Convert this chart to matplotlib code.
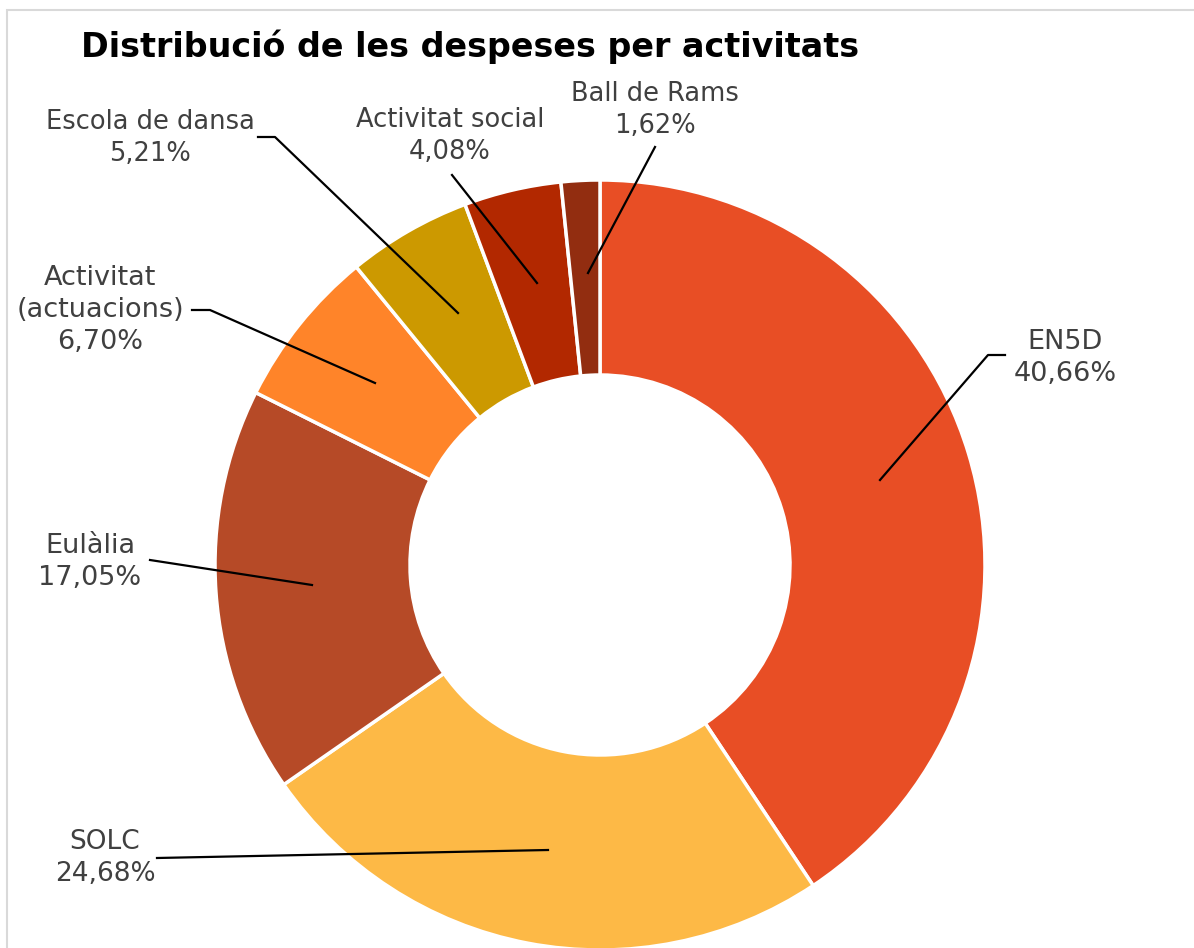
import matplotlib
matplotlib.use("Agg")
import matplotlib.pyplot as plt
from matplotlib.patches import Rectangle

#====================================================================================================

labels = ["EN5D", "SOLC", "Eulàlia", "Activitat\n(actuacions)", "Escola de dansa",
          "Activitat social", "Ball de Rams"]
shares = [40.66, 24.68, 17.05, 6.70, 5.21, 4.08, 1.62]
colors = ["#E84E25", "#FDB946", "#B64A27", "#FF8429", "#CC9900", "#B22800", "#922D10"]

# label text centre (pixels), leader line points (pixels, starting in the wedge)
textPos = [(1065, 358), (105, 858), (90, 562), (100, 310), (150, 138), (450, 136), (655, 110)]
leaders = [
    [(880, 480), (988, 355), (1005, 355)],
    [(548, 850), (157, 858)],
    [(312, 585), (150, 560)],
    [(375, 383), (210, 310), (192, 310)],
    [(458, 313), (275, 137), (258, 137)],
    [(537, 283), (452, 175)],
    [(588, 273), (655, 147)],
]
fontSizes = [19.5, 19, 19.5, 19.5, 18.5, 18.5, 18.5]

W, H = 1194, 948

def Y(py):
    return H - py

#====================================================================================================

def main():
    fig = plt.figure(figsize=(W / 100, H / 100), dpi=100)
    ax = fig.add_axes([0, 0, 1, 1])

    ax.pie(shares, colors=colors, startangle=90, counterclock=False,
           center=(600, Y(565)), radius=385,
           wedgeprops=dict(width=195, edgecolor="white", linewidth=2.5))

    ax.set_xlim(0, W)
    ax.set_ylim(0, H)
    ax.set_aspect("equal")
    ax.axis("off")

    # light frame of the chart area
    ax.add_patch(Rectangle((7, Y(1000)), 1300, 990, fill=False, edgecolor="#D9D9D9", linewidth=1.5))

    for lab, val, tp, pts, fs in zip(labels, shares, textPos, leaders, fontSizes):
        xs = [p[0] for p in pts]
        ys = [Y(p[1]) for p in pts]
        ax.plot(xs, ys, color="black", linewidth=1.6)
        txt = lab + "\n" + "{:.2f}%".format(val).replace(".", ",")
        ax.text(tp[0], Y(tp[1]), txt, ha="center", va="center", fontsize=fs,
                color="#404040", family="DejaVu Sans", linespacing=1.3)

    ax.text(470, Y(47), "Distribució de les despeses per activitats", ha="center", va="center",
            fontsize=24, fontweight="bold", color="black", family="DejaVu Sans")

    fig.savefig("out.png", dpi=100)

#====================================================================================================

if __name__ == "__main__":
    main()
